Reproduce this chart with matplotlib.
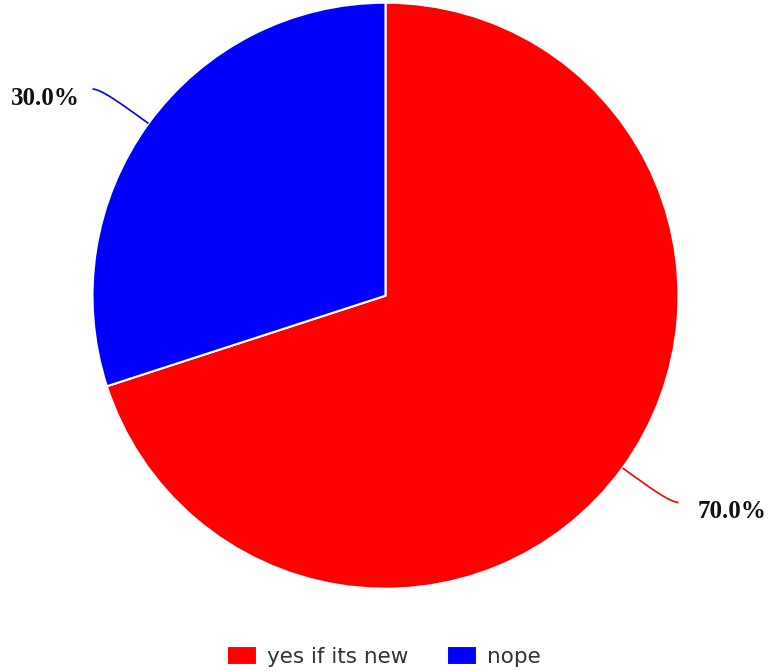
import numpy as np
import matplotlib.pyplot as plt
from matplotlib.path import Path
from matplotlib.patches import PathPatch

labels = ['yes if its new', 'nope']
values = [70.0, 30.0]
colors = ['#ff0000', '#0000ff']

W, H = 771, 671
fig = plt.figure(figsize=(W / 100, H / 100), dpi=100)

# pie centre (385.5, 295.7) px, radius 293 px
cx, cy, r = 385.5, 295.7, 293
ax = fig.add_axes([(cx - r) / W, (H - cy - r) / H, 2 * r / W, 2 * r / H])

wedges, _ = ax.pie(values, colors=colors, startangle=90, counterclock=False,
                   radius=1, wedgeprops=dict(edgecolor='white', linewidth=1.5))
ax.set_xlim(-1, 1)
ax.set_ylim(-1, 1)
ax.set_aspect('equal')
ax.axis('off')

# percentage labels with curved leader lines
total = sum(values)
for w, v, c in zip(wedges, values, colors):
    mid = np.deg2rad((w.theta1 + w.theta2) / 2)
    cs, sn = np.cos(mid), np.sin(mid)
    side = 1 if cs > 0 else -1
    end = (side * 1.0, 1.2 * sn)
    k = end[1] / sn  # radial line meets the label's level here
    p0 = (cs, sn)
    p1 = (1.0 + 0.6 * (k - 1.0)) * cs, (1.0 + 0.6 * (k - 1.0)) * sn
    p2 = (k * cs, end[1])
    path = Path([p0, p1, p2, end], [Path.MOVETO, Path.CURVE4, Path.CURVE4, Path.CURVE4])
    ax.add_patch(PathPatch(path, facecolor='none', edgecolor=c, lw=1.2, clip_on=False))
    dx = 14 if side > 0 else -9
    ax.annotate(f'{100 * v / total:.1f}%', xy=end, xytext=(dx, -6.5),
                textcoords='offset points', ha='left' if side > 0 else 'right',
                va='center', fontsize=18, fontweight='bold',
                family='Liberation Serif', color='#111111', annotation_clip=False)

fig.legend(wedges, labels, loc='center', bbox_to_anchor=(0.498, 0.022),
           ncol=2, frameon=False, fontsize=15.5, labelcolor='#333333',
           handlelength=1.4, handleheight=1.02, handletextpad=0.47,
           columnspacing=1.8, borderaxespad=0)

fig.savefig('out.png', dpi=100)
